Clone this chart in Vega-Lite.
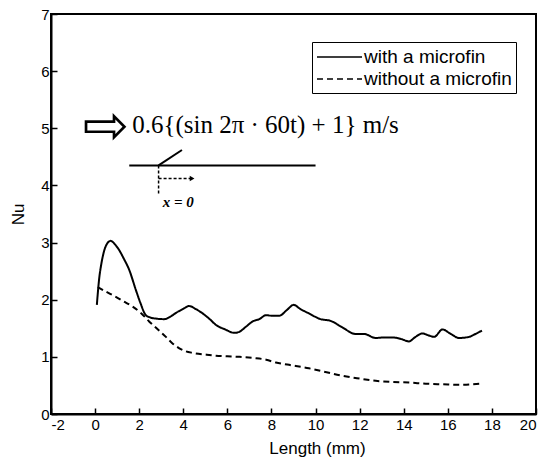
{
  "$schema": "https://vega.github.io/schema/vega-lite/v6.json",
  "width": 485,
  "height": 400,
  "autosize": {"type": "none"},
  "padding": {"left": 51, "top": 14, "right": 20, "bottom": 50},
  "background": "white",
  "config": {
    "view": {"stroke": "black", "strokeWidth": 2},
    "font": "Liberation Sans",
    "axis": {
      "domainColor": "black", "domainWidth": 2, "tickColor": "black", "tickWidth": 1.5,
      "labelColor": "black", "titleColor": "black", "grid": false,
      "labelFont": "Liberation Sans", "titleFont": "Liberation Sans",
      "labelFontSize": 15, "titleFontSize": 17, "titleFontWeight": "normal"
    }
  },
  "datasets": {
    "curves": [
      {"series": "with a microfin", "length": 0.08, "nu": 1.91},
      {"series": "with a microfin", "length": 0.12, "nu": 2.1},
      {"series": "with a microfin", "length": 0.18, "nu": 2.35},
      {"series": "with a microfin", "length": 0.28, "nu": 2.62},
      {"series": "with a microfin", "length": 0.38, "nu": 2.81},
      {"series": "with a microfin", "length": 0.5, "nu": 2.95},
      {"series": "with a microfin", "length": 0.71, "nu": 3.03},
      {"series": "with a microfin", "length": 0.9, "nu": 2.97},
      {"series": "with a microfin", "length": 1.09, "nu": 2.87},
      {"series": "with a microfin", "length": 1.3, "nu": 2.72},
      {"series": "with a microfin", "length": 1.55, "nu": 2.52},
      {"series": "with a microfin", "length": 1.85, "nu": 2.17},
      {"series": "with a microfin", "length": 2.05, "nu": 1.95},
      {"series": "with a microfin", "length": 2.3, "nu": 1.73},
      {"series": "with a microfin", "length": 2.5, "nu": 1.69},
      {"series": "with a microfin", "length": 2.76, "nu": 1.67},
      {"series": "with a microfin", "length": 3.14, "nu": 1.66},
      {"series": "with a microfin", "length": 3.4, "nu": 1.7},
      {"series": "with a microfin", "length": 3.67, "nu": 1.77},
      {"series": "with a microfin", "length": 4.0, "nu": 1.84},
      {"series": "with a microfin", "length": 4.27, "nu": 1.89},
      {"series": "with a microfin", "length": 4.55, "nu": 1.84},
      {"series": "with a microfin", "length": 4.88, "nu": 1.76},
      {"series": "with a microfin", "length": 5.2, "nu": 1.66},
      {"series": "with a microfin", "length": 5.48, "nu": 1.56},
      {"series": "with a microfin", "length": 5.9, "nu": 1.48},
      {"series": "with a microfin", "length": 6.32, "nu": 1.42},
      {"series": "with a microfin", "length": 6.55, "nu": 1.44},
      {"series": "with a microfin", "length": 6.85, "nu": 1.53},
      {"series": "with a microfin", "length": 7.15, "nu": 1.62},
      {"series": "with a microfin", "length": 7.45, "nu": 1.66},
      {"series": "with a microfin", "length": 7.76, "nu": 1.73},
      {"series": "with a microfin", "length": 8.0, "nu": 1.72},
      {"series": "with a microfin", "length": 8.36, "nu": 1.72},
      {"series": "with a microfin", "length": 8.7, "nu": 1.82},
      {"series": "with a microfin", "length": 9.01, "nu": 1.91},
      {"series": "with a microfin", "length": 9.3, "nu": 1.84},
      {"series": "with a microfin", "length": 9.7, "nu": 1.76},
      {"series": "with a microfin", "length": 10.23, "nu": 1.66},
      {"series": "with a microfin", "length": 10.68, "nu": 1.63},
      {"series": "with a microfin", "length": 11.2, "nu": 1.52},
      {"series": "with a microfin", "length": 11.82, "nu": 1.4},
      {"series": "with a microfin", "length": 12.2, "nu": 1.4},
      {"series": "with a microfin", "length": 12.73, "nu": 1.33},
      {"series": "with a microfin", "length": 13.1, "nu": 1.34},
      {"series": "with a microfin", "length": 13.5, "nu": 1.34},
      {"series": "with a microfin", "length": 13.9, "nu": 1.31},
      {"series": "with a microfin", "length": 14.24, "nu": 1.27},
      {"series": "with a microfin", "length": 14.5, "nu": 1.34},
      {"series": "with a microfin", "length": 14.85, "nu": 1.41},
      {"series": "with a microfin", "length": 15.1, "nu": 1.38},
      {"series": "with a microfin", "length": 15.38, "nu": 1.35},
      {"series": "with a microfin", "length": 15.76, "nu": 1.48},
      {"series": "with a microfin", "length": 16.1, "nu": 1.41},
      {"series": "with a microfin", "length": 16.51, "nu": 1.33},
      {"series": "with a microfin", "length": 16.97, "nu": 1.35},
      {"series": "with a microfin", "length": 17.25, "nu": 1.4},
      {"series": "with a microfin", "length": 17.55, "nu": 1.46},
      {"series": "without a microfin", "length": 0.12, "nu": 2.22},
      {"series": "without a microfin", "length": 0.5, "nu": 2.14},
      {"series": "without a microfin", "length": 0.94, "nu": 2.05},
      {"series": "without a microfin", "length": 1.3, "nu": 1.97},
      {"series": "without a microfin", "length": 1.7, "nu": 1.88},
      {"series": "without a microfin", "length": 2.1, "nu": 1.76},
      {"series": "without a microfin", "length": 2.45, "nu": 1.62},
      {"series": "without a microfin", "length": 2.85, "nu": 1.48},
      {"series": "without a microfin", "length": 3.21, "nu": 1.35},
      {"series": "without a microfin", "length": 3.5, "nu": 1.24},
      {"series": "without a microfin", "length": 3.82, "nu": 1.15},
      {"series": "without a microfin", "length": 4.1, "nu": 1.1},
      {"series": "without a microfin", "length": 4.42, "nu": 1.07},
      {"series": "without a microfin", "length": 5.0, "nu": 1.04},
      {"series": "without a microfin", "length": 5.48, "nu": 1.02},
      {"series": "without a microfin", "length": 6.0, "nu": 1.01},
      {"series": "without a microfin", "length": 6.55, "nu": 1.0},
      {"series": "without a microfin", "length": 7.2, "nu": 0.98},
      {"series": "without a microfin", "length": 7.76, "nu": 0.95},
      {"series": "without a microfin", "length": 8.2, "nu": 0.9},
      {"series": "without a microfin", "length": 8.8, "nu": 0.86},
      {"series": "without a microfin", "length": 9.7, "nu": 0.8},
      {"series": "without a microfin", "length": 10.5, "nu": 0.73},
      {"series": "without a microfin", "length": 11.2, "nu": 0.67},
      {"series": "without a microfin", "length": 12.0, "nu": 0.62},
      {"series": "without a microfin", "length": 12.73, "nu": 0.58},
      {"series": "without a microfin", "length": 13.5, "nu": 0.56},
      {"series": "without a microfin", "length": 14.24, "nu": 0.55},
      {"series": "without a microfin", "length": 15.0, "nu": 0.53},
      {"series": "without a microfin", "length": 15.76, "nu": 0.52},
      {"series": "without a microfin", "length": 16.6, "nu": 0.51},
      {"series": "without a microfin", "length": 17.5, "nu": 0.53}
    ],
    "solidLines": [
      {"x": 1.55, "y": 4.35, "x2": 10.0, "y2": 4.35},
      {"x": 2.88, "y": 4.35, "x2": 3.94, "y2": 4.62}
    ],
    "dashLines": [
      {"x": 2.88, "y": 4.35, "x2": 2.88, "y2": 3.85},
      {"x": 2.88, "y": 4.12, "x2": 4.35, "y2": 4.12}
    ],
    "heads": [{"x": 4.4, "y": 4.12}],
    "labels": [
      {"x": 0.48, "y": 5.03, "text": "⇨", "kind": "arrow"},
      {"x": 1.68, "y": 5.06, "text": "0.6{(sin 2π · 60t) + 1} m/s", "kind": "formula"},
      {"x": 3.77, "y": 3.71, "text": "x = 0", "kind": "x0"}
    ]
  },
  "layer": [
    {
      "data": {"name": "curves"},
      "mark": {"type": "line", "strokeWidth": 2, "interpolate": "monotone"},
      "encoding": {
        "x": {
          "field": "length", "type": "quantitative",
          "scale": {"domain": [-2, 20], "nice": false, "zero": false},
          "axis": {
            "title": "Length (mm)",
            "values": [-2,-1,0,1,2,3,4,5,6,7,8,9,10,11,12,13,14,15,16,17,18,19,20],
            "labelExpr": "datum.value % 2 === 0 ? '' + datum.value : ''",
            "tickSize": -6,
            "labelPadding": 9,
            "titleX": 266, "titleY": 34, "titleBaseline": "middle", "titleAnchor": "middle", "titleAlign": "center"
          }
        },
        "y": {
          "field": "nu", "type": "quantitative",
          "scale": {"domain": [0, 7], "nice": false},
          "axis": {
            "title": "Nu",
            "values": [0,0.5,1,1.5,2,2.5,3,3.5,4,4.5,5,5.5,6,6.5,7],
            "labelExpr": "datum.value % 1 === 0 ? '' + datum.value : ''",
            "tickSize": -6,
            "labelPadding": 8,
            "titleX": -33, "titleY": 200, "titleBaseline": "middle", "titleAngle": -90, "titleAlign": "center"
          }
        },
        "color": {
          "field": "series", "type": "nominal",
          "scale": {"domain": ["with a microfin", "without a microfin"], "range": ["black", "black"]},
          "legend": {
            "title": null, "orient": "none", "legendX": 261, "legendY": 28,
            "strokeColor": "black", "padding": 4, "cornerRadius": 0,
            "symbolType": "M-1,0H3.5", "symbolSize": 400, "symbolStrokeWidth": 1.5,
            "labelFontSize": 19, "labelFont": "Liberation Sans", "labelColor": "black",
            "rowPadding": 1, "labelOffset": 26
          }
        },
        "strokeDash": {
          "field": "series", "type": "nominal",
          "scale": {"domain": ["with a microfin", "without a microfin"], "range": [[1, 0], [6, 4]]},
          "legend": null
        }
      }
    },
    {
      "data": {"name": "solidLines"},
      "mark": {"type": "rule", "color": "black", "strokeWidth": 2},
      "encoding": {
        "x": {"field": "x", "type": "quantitative"},
        "y": {"field": "y", "type": "quantitative"},
        "x2": {"field": "x2"},
        "y2": {"field": "y2"}
      }
    },
    {
      "data": {"name": "dashLines"},
      "mark": {"type": "rule", "color": "black", "strokeWidth": 1.5, "strokeDash": [3, 2]},
      "encoding": {
        "x": {"field": "x", "type": "quantitative"},
        "y": {"field": "y", "type": "quantitative"},
        "x2": {"field": "x2"},
        "y2": {"field": "y2"}
      }
    },
    {
      "data": {"name": "heads"},
      "mark": {"type": "point", "shape": "triangle-right", "filled": true, "color": "black", "size": 30, "opacity": 1},
      "encoding": {
        "x": {"field": "x", "type": "quantitative"},
        "y": {"field": "y", "type": "quantitative"}
      }
    },
    {
      "data": {"name": "labels"},
      "transform": [{"filter": "datum.kind === 'arrow'"}],
      "mark": {"type": "text", "font": "DejaVu Sans", "fontSize": 55, "align": "center", "baseline": "middle", "color": "black"},
      "encoding": {
        "x": {"field": "x", "type": "quantitative"},
        "y": {"field": "y", "type": "quantitative"},
        "text": {"field": "text"}
      }
    },
    {
      "data": {"name": "labels"},
      "transform": [{"filter": "datum.kind === 'formula'"}],
      "mark": {"type": "text", "font": "Liberation Serif", "fontSize": 25, "align": "left", "baseline": "middle", "color": "black"},
      "encoding": {
        "x": {"field": "x", "type": "quantitative"},
        "y": {"field": "y", "type": "quantitative"},
        "text": {"field": "text"}
      }
    },
    {
      "data": {"name": "labels"},
      "transform": [{"filter": "datum.kind === 'x0'"}],
      "mark": {"type": "text", "font": "Liberation Serif", "fontSize": 15, "fontStyle": "italic", "fontWeight": "bold", "align": "center", "baseline": "middle", "color": "black"},
      "encoding": {
        "x": {"field": "x", "type": "quantitative"},
        "y": {"field": "y", "type": "quantitative"},
        "text": {"field": "text"}
      }
    }
  ]
}
